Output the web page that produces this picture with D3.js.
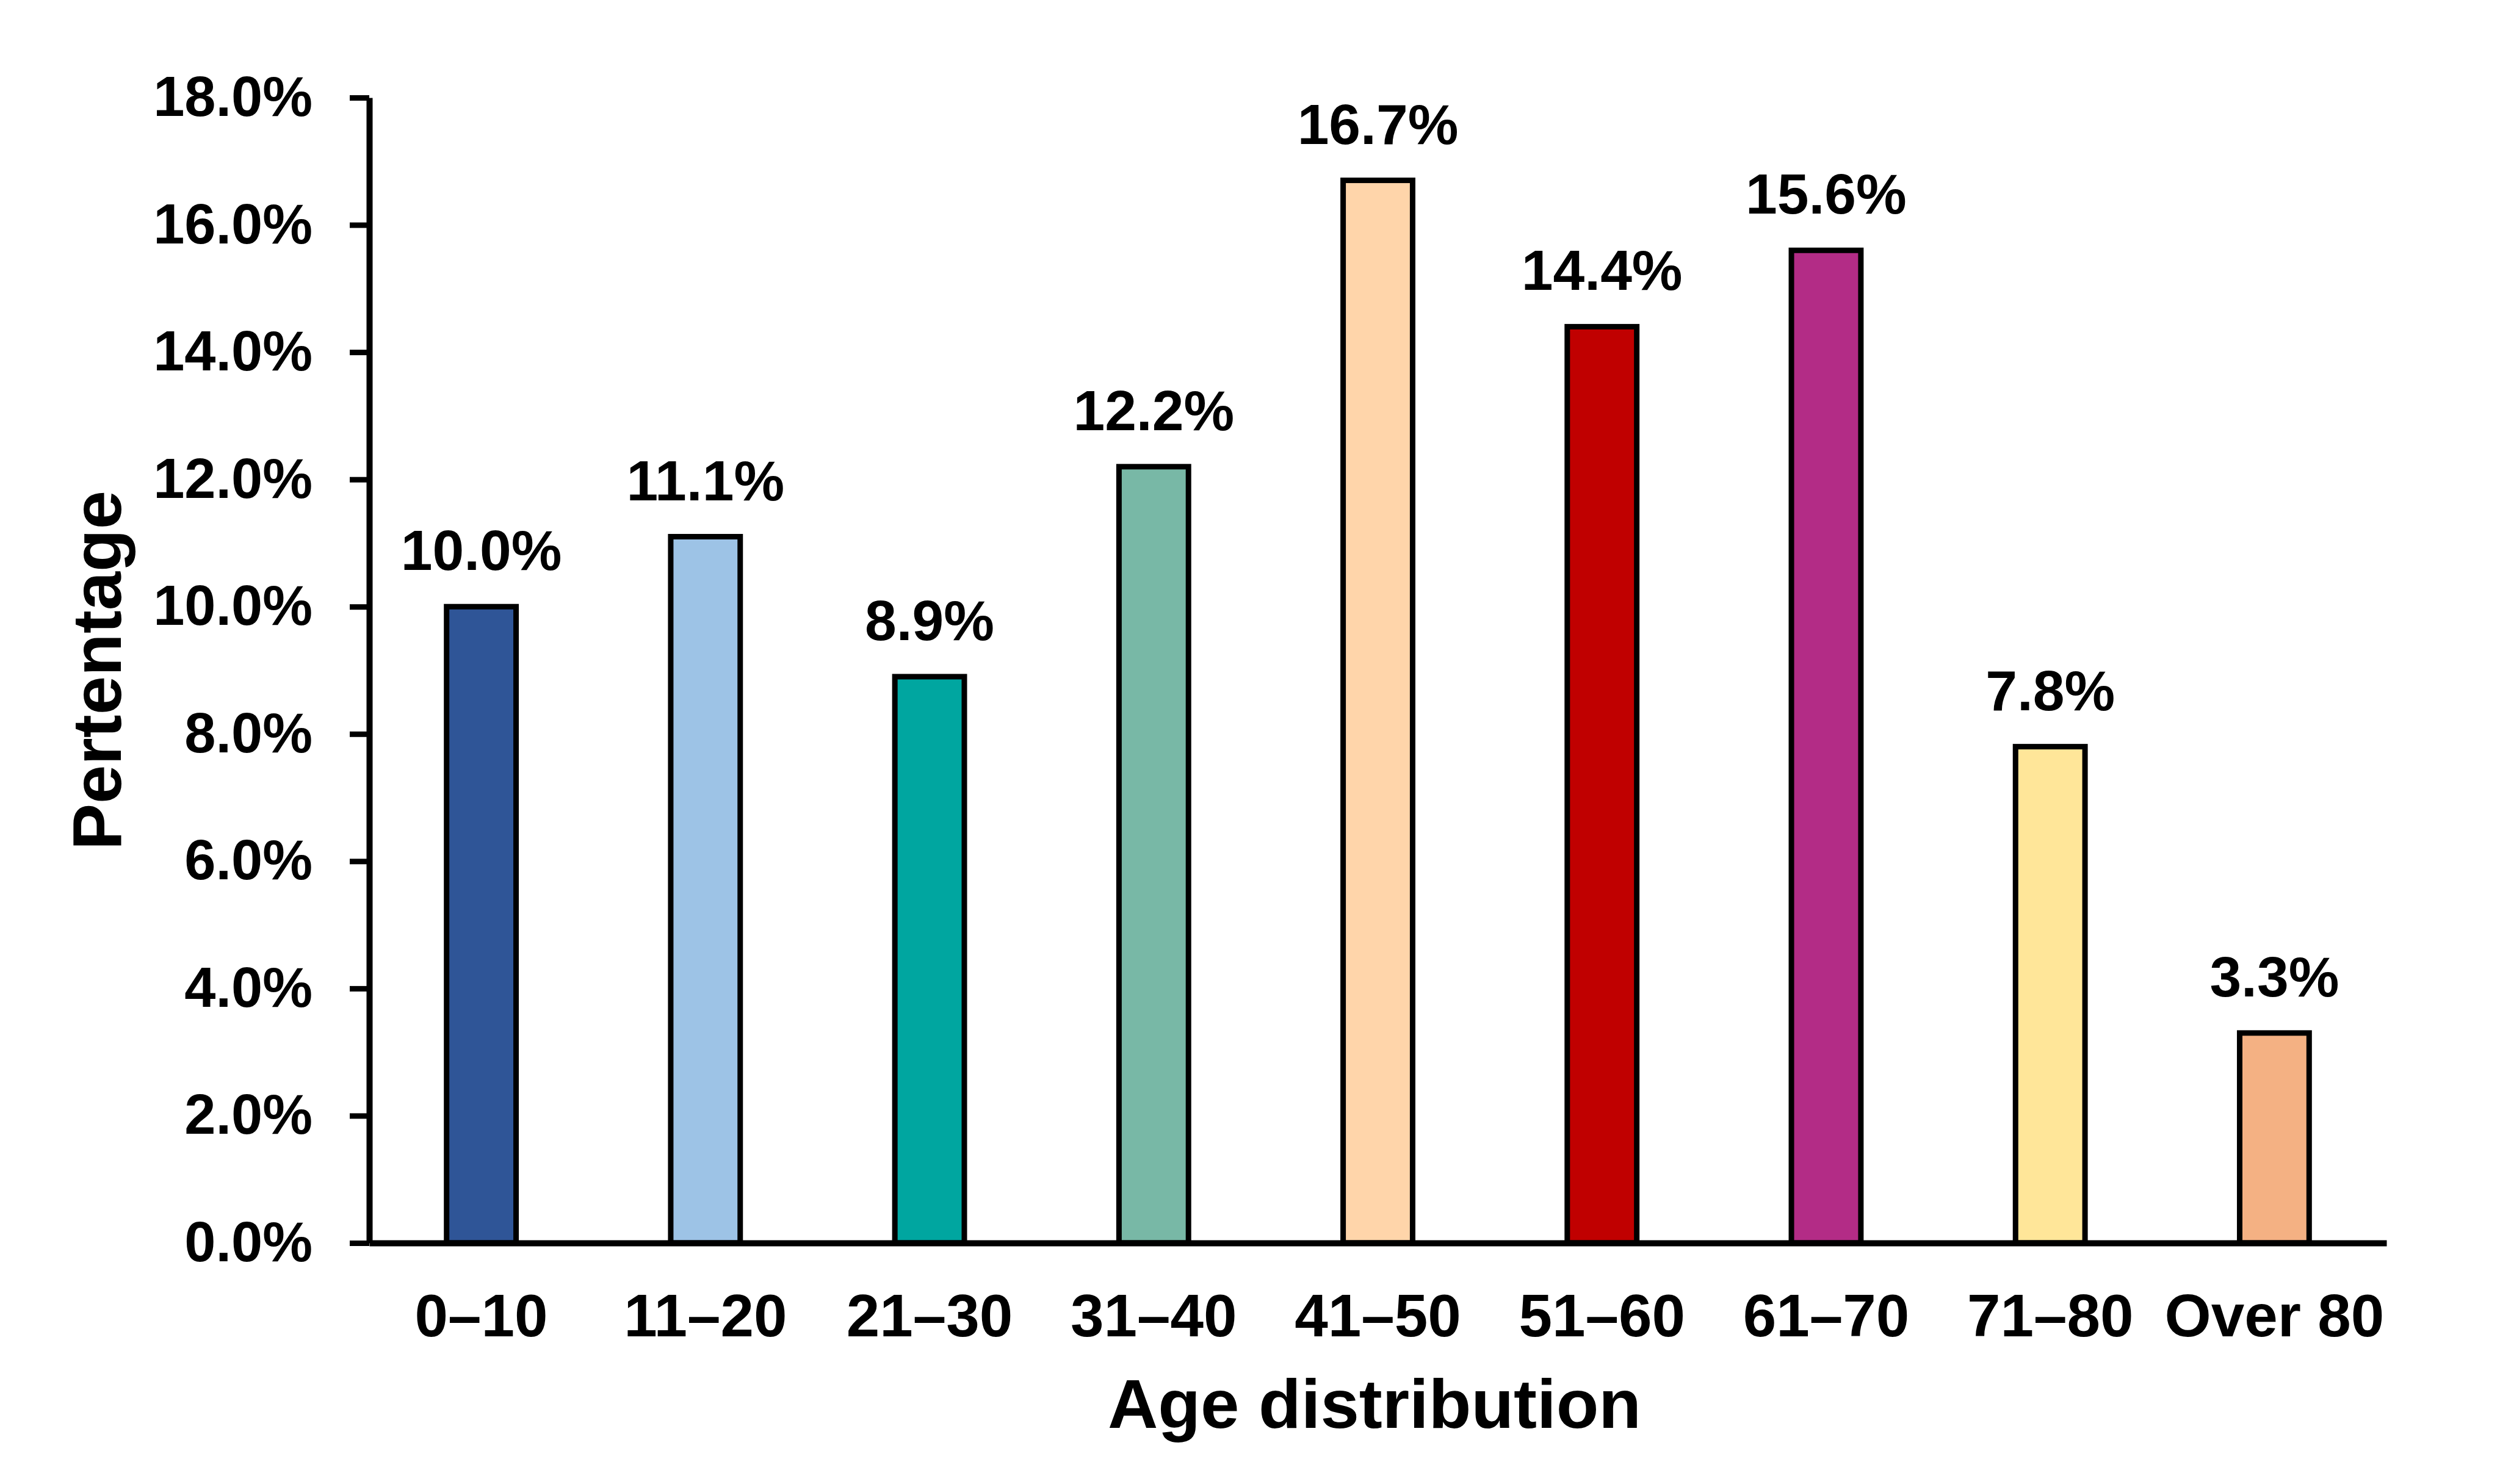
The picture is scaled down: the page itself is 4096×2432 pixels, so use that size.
<!DOCTYPE html>
<html>
<head>
  <meta charset="utf-8">
  <title>Age distribution</title>
  <script src="https://cdn.jsdelivr.net/npm/d3@7"></script>
  <style>
    body {
      margin: 0;
      background: #fff;
      overflow: hidden;
      font-family: "Liberation Sans", Arial, sans-serif;
    }
  </style>
</head>
<body>
  <svg id="chart" width="4096" height="2432"></svg>
  <script>
    const ageGroups = ['0–10', '11–20', '21–30', '31–40', '41–50', '51–60', '61–70', '71–80', 'Over 80'];
    const shares = [10.0, 11.1, 8.9, 12.2, 16.7, 14.4, 15.6, 7.8, 3.3];
    const barColors = ['#2F5597', '#9DC3E6', '#00A6A0', '#78B8A6', '#FFD5AA', '#C00000', '#B32C86', '#FFE699', '#F4B183'];
    const yTicks = [0, 2, 4, 6, 8, 10, 12, 14, 16, 18];

    const svg = d3.select('#chart');
    const plotLeft = 605, plotRight = 3910, plotTop = 160, plotBottom = 2037;

    const x = d3.scaleBand()
      .domain(ageGroups)
      .range([plotLeft, plotRight])
      .paddingInner(0.69)
      .paddingOuter(0.345);

    const y = d3.scaleLinear()
      .domain([0, 18])
      .range([plotBottom, plotTop]);

    svg.append('rect').attr('width', 4096).attr('height', 2432).attr('fill', '#fff');

    // bars
    svg.append('g')
      .selectAll('rect')
      .data(shares)
      .enter()
      .append('rect')
      .attr('x', (d, i) => x(ageGroups[i]))
      .attr('y', d => y(d))
      .attr('width', x.bandwidth())
      .attr('height', d => y(0) - y(d))
      .attr('fill', (d, i) => barColors[i])
      .attr('stroke', '#000')
      .attr('stroke-width', 9);

    // value labels
    svg.append('g')
      .selectAll('text')
      .data(shares)
      .enter()
      .append('text')
      .attr('x', (d, i) => x(ageGroups[i]) + x.bandwidth() / 2)
      .attr('y', d => y(d) - 60)
      .attr('text-anchor', 'middle')
      .style('font-size', '93px')
      .style('font-weight', 'bold')
      .text(d => d.toFixed(1) + '%');

    // y axis
    const yAxis = svg.append('g')
      .attr('transform', `translate(${plotLeft},0)`)
      .call(d3.axisLeft(y).tickValues(yTicks).tickSize(32).tickSizeOuter(0).tickPadding(61)
        .tickFormat(d => d.toFixed(1) + '%'));
    yAxis.select('.domain').attr('stroke-width', 10);
    yAxis.selectAll('.tick line').attr('stroke-width', 9);
    yAxis.selectAll('text')
      .attr('fill', '#000')
      .style('font-size', '92px')
      .style('font-weight', 'bold')
      .style('font-family', '"Liberation Sans", Arial, sans-serif');

    // x axis
    const xAxis = svg.append('g')
      .attr('transform', `translate(0,${plotBottom})`)
      .call(d3.axisBottom(x).tickSize(0).tickSizeOuter(0).tickPadding(83));
    xAxis.select('.domain').attr('stroke-width', 10);
    xAxis.selectAll('text')
      .attr('fill', '#000')
      .style('font-size', '98px')
      .style('font-weight', 'bold')
      .style('font-family', '"Liberation Sans", Arial, sans-serif');

    // axis titles
    svg.append('text')
      .attr('x', 2252)
      .attr('y', 2340)
      .attr('text-anchor', 'middle')
      .style('font-size', '114px')
      .style('font-weight', 'bold')
      .text('Age distribution');

    svg.append('text')
      .attr('transform', `translate(198,${(plotTop + plotBottom) / 2}) rotate(-90)`)
      .attr('text-anchor', 'middle')
      .style('font-size', '114px')
      .style('font-weight', 'bold')
      .text('Pertentage');
  </script>
</body>
</html>
